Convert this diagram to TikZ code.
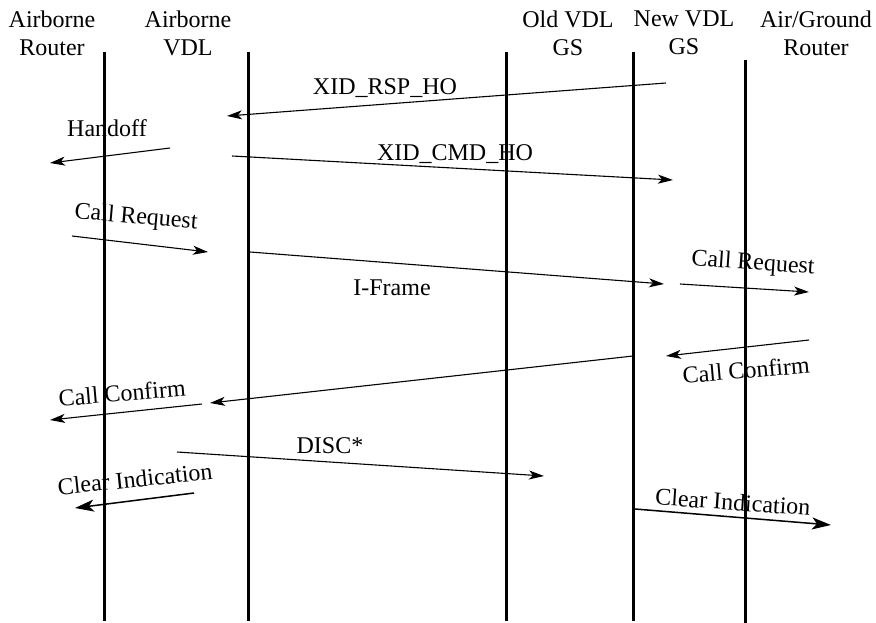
\documentclass[tikz,border=0pt]{standalone}
\usepackage{fontspec}
\setmainfont{Liberation Serif}
\usetikzlibrary{arrows.meta}
\begin{document}
\begin{tikzpicture}[x=1pt,y=-1pt,
  lifeline/.style={line width=3pt},
  msg/.style={line width=1.1pt,-{Stealth[length=15pt,width=9pt,inset=4pt]}},
  msgbold/.style={line width=1.5pt,-{Stealth[length=19pt,width=12pt,inset=5pt]}},
  hdr/.style={font=\fontsize{24}{28}\selectfont, align=center, inner sep=0pt},
  lbl/.style={font=\fontsize{24}{28}\selectfont, inner sep=0pt}]
\useasboundingbox (0,0) rectangle (876,623);

% headers
\node[hdr] (hAR)  at (52,33)  {Airborne\\Router};
\node[hdr] (hAV)  at (188,33) {Airborne\\VDL};
\node[hdr] (hOld) at (568,33) {Old VDL\\GS};
\node[hdr] (hNew) at (684,33) {New VDL\\GS};
\node[hdr] (hAG)  at (816,33) {Air/Ground\\Router};

% lifelines
\coordinate (L1t) at (104,52);  \coordinate (L1b) at (104,621);
\coordinate (L2t) at (248,52);  \coordinate (L2b) at (248,621);
\coordinate (L3t) at (506,52);  \coordinate (L3b) at (506,621);
\coordinate (L4t) at (633,52);  \coordinate (L4b) at (633,621);
\coordinate (L5t) at (745,60);  \coordinate (L5b) at (745,623);
\foreach \i in {1,...,5} \draw[lifeline] (L\i t) -- (L\i b);

% message end points
\coordinate (a1s) at (666,83);  \coordinate (a1e) at (227,116);
\coordinate (a2s) at (170,148); \coordinate (a2e) at (50,163);
\coordinate (a3s) at (232,156); \coordinate (a3e) at (673,180);
\coordinate (a4s) at (72,236);  \coordinate (a4e) at (208,252);
\coordinate (a5s) at (250,252); \coordinate (a5e) at (664,284);
\coordinate (a6s) at (680,284); \coordinate (a6e) at (809,292);
\coordinate (a7s) at (809,340); \coordinate (a7e) at (666,356);
\coordinate (a8s) at (633,356); \coordinate (a8e) at (210,403);
\coordinate (a9s) at (202,404); \coordinate (a9e) at (50,420);
\coordinate (a10s) at (177,452); \coordinate (a10e) at (544,476);
\coordinate (a11s) at (194,493); \coordinate (a11e) at (75,508);
\coordinate (a12s) at (635,509); \coordinate (a12e) at (831,525);

\draw[msg] (a1s) -- (a1e);
\draw[msg] (a2s) -- (a2e);
\draw[msg] (a3s) -- (a3e);
\draw[msg] (a4s) -- (a4e);
\draw[msg] (a5s) -- (a5e);
\draw[msg] (a6s) -- (a6e);
\draw[msg] (a7s) -- (a7e);
\draw[msg] (a8s) -- (a8e);
\draw[msg] (a9s) -- (a9e);
\draw[msg] (a10s) -- (a10e);
\draw[msgbold] (a11s) -- (a11e);
\draw[msgbold] (a12s) -- (a12e);

% labels
\node[lbl] (t1)  at (385,88)  {XID\_RSP\_HO};
\node[lbl] (t2)  at (107,128) {Handoff};
\node[lbl] (t3)  at (455,154) {XID\_CMD\_HO};
\node[lbl,rotate=-5] (t4) at (136,218) {Call Request};
\node[lbl] (t5)  at (392,288) {I-Frame};
\node[lbl,rotate=-4] (t6) at (753,264) {Call Request};
\node[lbl,rotate=5] (t7)  at (746,370) {Call Confirm};
\node[lbl,rotate=5] (t9)  at (122,393) {Call Confirm};
\node[lbl] (t10) at (330,446) {DISC*};
\node[lbl,rotate=6] (t11) at (135,479) {Clear Indication};
\node[lbl,rotate=-4] (t12) at (733,502) {Clear Indication};
\end{tikzpicture}
\end{document}
